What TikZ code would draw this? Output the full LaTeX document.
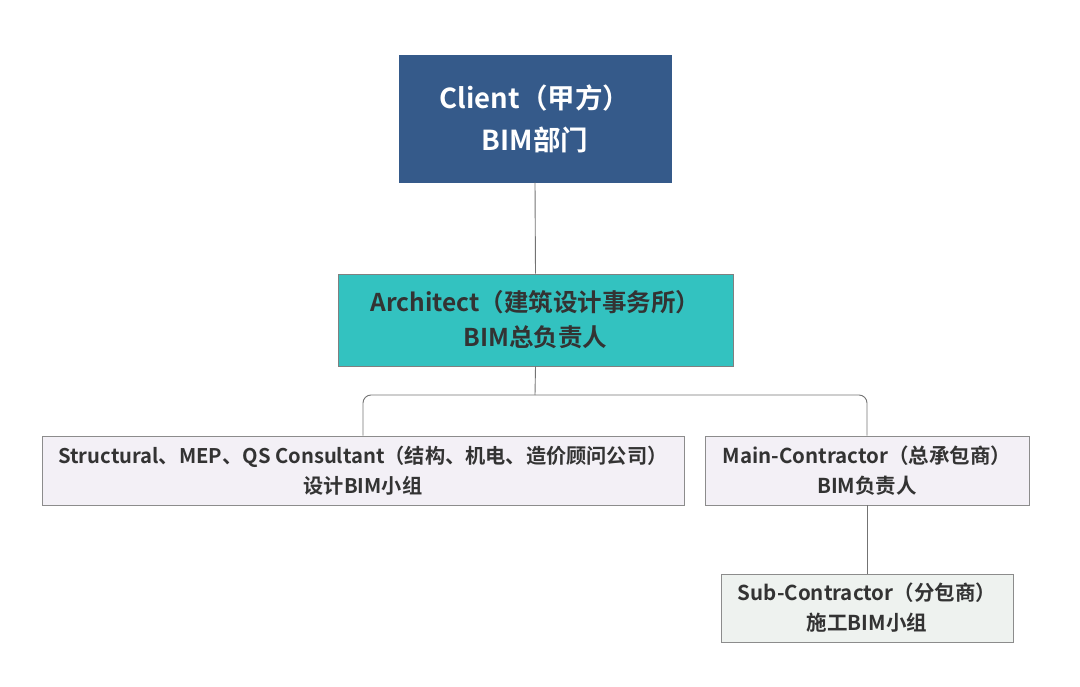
\documentclass[tikz,border=0pt]{standalone}
\usepackage{fontspec}
\setmainfont{Noto Sans CJK SC}[BoldFont={* Bold}]
\begin{document}
\begin{tikzpicture}[x=1pt,y=-1pt,
  box/.style={draw=#1,line width=0.8pt,inner sep=0pt,align=center,font=\bfseries,text=black!80},
  ln/.style={draw=black!55,line width=0.9pt}]
\definecolor{cl}{HTML}{355A8A}
\definecolor{ar}{HTML}{33C2C0}
\definecolor{lv}{HTML}{F3F0F6}
\definecolor{lg}{HTML}{EEF2EF}
\useasboundingbox (0,0) rectangle (1080,687);
\node[box=cl,fill=cl,text=white,minimum width=272pt,minimum height=127pt,font=\bfseries\fontsize{27.5}{42}\selectfont] (c) at (535,118.5) {Client（甲方）\\BIM部门};
\node[box=black!50,fill=ar,minimum width=395pt,minimum height=92pt,font=\bfseries\fontsize{24.5}{35}\selectfont] (a) at (535.5,320) {Architect（建筑设计事务所）\\BIM总负责人};
\node[box=black!45,fill=lv,minimum width=642pt,minimum height=69pt,font=\bfseries\fontsize{20.2}{30}\selectfont] (s) at (363,470.5) {Structural、MEP、QS Consultant（结构、机电、造价顾问公司）\\设计BIM小组};
\node[box=black!45,fill=lv,minimum width=324pt,minimum height=69pt,font=\bfseries\fontsize{20.5}{30}\selectfont] (m) at (867,470.5) {Main-Contractor（总承包商）\\BIM负责人};
\node[box=black!45,fill=lg,minimum width=292pt,minimum height=68pt,font=\bfseries\fontsize{20.5}{30}\selectfont] (u) at (867,608) {Sub-Contractor（分包商）\\施工BIM小组};
\draw[ln] (c.south) -- (a.north);
\coordinate (j) at (535,395);
\draw[ln] (a.south) -- (j);
\draw[ln,rounded corners=8pt] (s.north) -- (363,395) -- (867,395) -- (m.north);
\draw[ln] (m.south) -- (u.north);
\end{tikzpicture}
\end{document}
